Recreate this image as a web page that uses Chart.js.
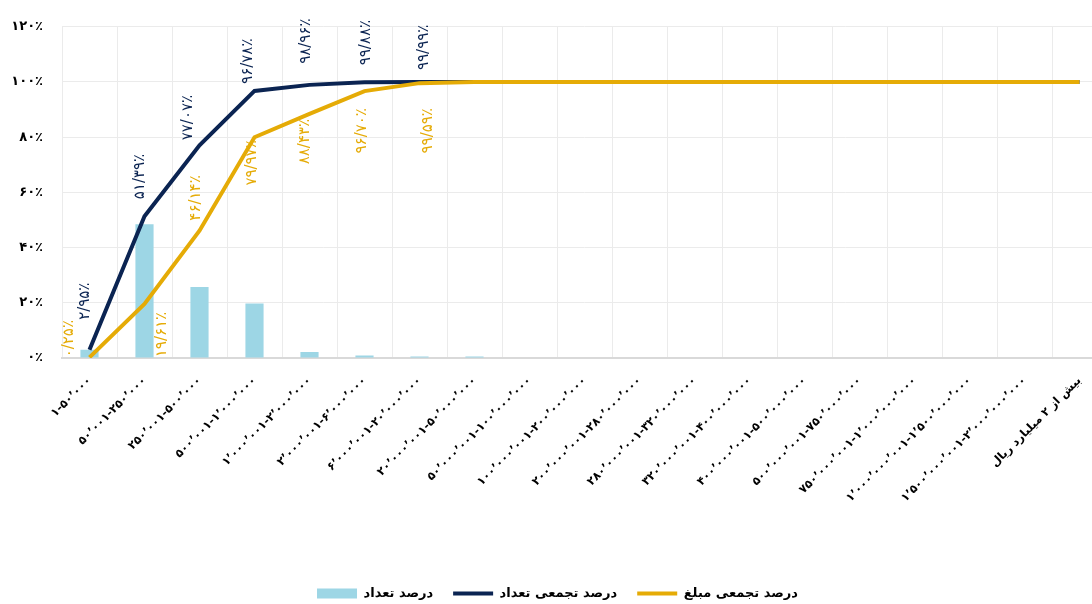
<!DOCTYPE html>
<html lang="fa">
<head>
<meta charset="utf-8">
<title>درصد تجمعی</title>
<script src="https://cdn.jsdelivr.net/npm/chart.js@4.4.1/dist/chart.umd.min.js"></script>
<style>
  html, body { margin: 0; padding: 0; background: #fff; overflow: hidden; }
  #wrap { position: relative; width: 1115px; height: 610px; }
</style>
</head>
<body>
<div id="wrap"><canvas id="chart"></canvas></div>
<script>
const FONT = '"DejaVu Sans", sans-serif';
const NAVY = '#0b2452';
const GOLD = '#e5ab06';
const BAR_BLUE = '#9dd6e5';

// ranges (rial)
const CATEGORIES = [
  '۱-۵۰٬۰۰۰',
  '۵۰٬۰۰۱-۲۵۰٬۰۰۰',
  '۲۵۰٬۰۰۱-۵۰۰٬۰۰۰',
  '۵۰۰٬۰۰۱-۱٬۰۰۰٬۰۰۰',
  '۱٬۰۰۰٬۰۰۱-۲٬۰۰۰٬۰۰۰',
  '۲٬۰۰۰٬۰۰۱-۶٬۰۰۰٬۰۰۰',
  '۶٬۰۰۰٬۰۰۱-۲۰٬۰۰۰٬۰۰۰',
  '۲۰٬۰۰۰٬۰۰۱-۵۰٬۰۰۰٬۰۰۰',
  '۵۰٬۰۰۰٬۰۰۱-۱۰۰٬۰۰۰٬۰۰۰',
  '۱۰۰٬۰۰۰٬۰۰۱-۲۰۰٬۰۰۰٬۰۰۰',
  '۲۰۰٬۰۰۰٬۰۰۱-۲۸۰٬۰۰۰٬۰۰۰',
  '۲۸۰٬۰۰۰٬۰۰۱-۳۲۰٬۰۰۰٬۰۰۰',
  '۳۲۰٬۰۰۰٬۰۰۱-۴۰۰٬۰۰۰٬۰۰۰',
  '۴۰۰٬۰۰۰٬۰۰۱-۵۰۰٬۰۰۰٬۰۰۰',
  '۵۰۰٬۰۰۰٬۰۰۱-۷۵۰٬۰۰۰٬۰۰۰',
  '۷۵۰٬۰۰۰٬۰۰۱-۱٬۰۰۰٬۰۰۰٬۰۰۰',
  '۱٬۰۰۰٬۰۰۰٬۰۰۱-۱٬۵۰۰٬۰۰۰٬۰۰۰',
  '۱٬۵۰۰٬۰۰۰٬۰۰۱-۲٬۰۰۰٬۰۰۰٬۰۰۰',
  'بیش از ۲ میلیارد ریال'
];

const COUNT_PCT  = [2.95, 48.44, 25.68, 19.71, 2.18, 0.92, 0.55, 0.5, 0, 0, 0, 0, 0, 0, 0, 0, 0, 0, 0];
const COUNT_CUM  = [2.95, 51.39, 77.07, 96.78, 98.96, 99.88, 99.99, 100, 100, 100, 100, 100, 100, 100, 100, 100, 100, 100, 100];
const AMOUNT_CUM = [0.25, 19.61, 46.14, 79.97, 88.43, 96.70, 99.59, 100, 100, 100, 100, 100, 100, 100, 100, 100, 100, 100, 100];

const SERIES_NAMES = ['درصد تعداد', 'درصد تجمعی تعداد', 'درصد تجمعی مبلغ'];
const Y_MIN = 0, Y_MAX = 120, Y_STEP = 20;
const LABELED_POINTS = 7;

const FA_DIGITS = '۰۱۲۳۴۵۶۷۸۹';
const toFa = (s) => String(s).replace(/\d/g, (d) => FA_DIGITS[d]);
const pctLabel = (v) => toFa(v.toFixed(2)).replace('.', '/') + '٪';

// rotated value labels for the two cumulative lines
const pointLabels = {
  id: 'pointLabels',
  afterDatasetsDraw(chart, args, opts) {
    const { ctx } = chart;
    opts.sets.forEach((cfg) => {
      const ds = chart.data.datasets[cfg.dataset];
      const meta = chart.getDatasetMeta(cfg.dataset);
      ctx.save();
      ctx.fillStyle = cfg.color;
      ctx.font = `${opts.size}px ${FONT}`;
      ctx.textBaseline = 'middle';
      for (let i = 0; i < LABELED_POINTS; i++) {
        const pt = meta.data[i];
        const [place, dx, gap] = cfg.place[i];
        const x = pt.x + dx;
        const y = place === 'above' ? pt.y - gap : pt.y + gap;
        ctx.save();
        ctx.translate(x, y);
        ctx.rotate(-Math.PI / 2);
        ctx.textAlign = place === 'above' ? 'left' : 'right';
        ctx.fillText(pctLabel(ds.data[i]), 0, 0);
        ctx.restore();
      }
      ctx.restore();
    });
  }
};

new Chart(document.getElementById('chart'), {
  data: {
    labels: CATEGORIES,
    datasets: [
      {
        type: 'bar',
        label: SERIES_NAMES[0],
        data: COUNT_PCT,
        backgroundColor: BAR_BLUE,
        barPercentage: 0.33,
        categoryPercentage: 1,
        pointStyle: 'rect',
        order: 3
      },
      {
        type: 'line',
        label: SERIES_NAMES[1],
        data: COUNT_CUM,
        borderColor: NAVY,
        backgroundColor: NAVY,
        borderWidth: 4,
        pointRadius: 0,
        pointStyle: 'line',
        tension: 0,
        order: 2
      },
      {
        type: 'line',
        label: SERIES_NAMES[2],
        data: AMOUNT_CUM,
        borderColor: GOLD,
        backgroundColor: GOLD,
        borderWidth: 4,
        pointRadius: 0,
        pointStyle: 'line',
        tension: 0,
        order: 1
      }
    ]
  },
  options: {
    responsive: true,
    maintainAspectRatio: false,
    animation: false,
    layout: { padding: { left: 8, top: 21, right: 8, bottom: 0 } },
    scales: {
      x: {
        offset: true,
        grid: { color: '#ebebeb', drawTicks: false, offset: true },
        border: { color: '#d9d9d9', width: 2 },
        ticks: {
          autoSkip: false,
          minRotation: 45,
          maxRotation: 45,
          padding: 16,
          color: '#000',
          font: { family: FONT, size: 11.5, weight: 'bold' }
        },
        afterFit(scale) { scale.height = 209; }
      },
      y: {
        min: Y_MIN,
        max: Y_MAX,
        grid: { color: '#ebebeb', drawTicks: false },
        border: { display: false },
        ticks: {
          stepSize: Y_STEP,
          padding: 19,
          color: '#000',
          font: { family: FONT, size: 13, weight: 'bold' },
          callback: (v) => toFa(v) + '٪'
        },
        afterFit(scale) { scale.width = 54; }
      }
    },
    plugins: {
      legend: {
        position: 'bottom',
        labels: {
          usePointStyle: true,
          pointStyleWidth: 40,
          boxHeight: 10,
          padding: 20,
          color: '#000',
          font: { family: FONT, size: 13, weight: 'bold' },
          sort: (a, b) => a.datasetIndex - b.datasetIndex
        }
      },
      tooltip: { enabled: false },
      pointLabels: {
        size: 15,
        sets: [
          {
            dataset: 1,
            color: NAVY,
            place: [['above', -4, 30], ['above', -4, 17], ['above', -11, 5], ['above', -6, 7],
                    ['above', -3, 21], ['above', 2, 17], ['above', 5, 12]]
          },
          {
            dataset: 2,
            color: GOLD,
            place: [['above', -20, 0], ['below', 18, 8], ['above', -3, 10], ['below', -2, 3],
                    ['below', -4, 5], ['below', -2, 17], ['below', 9, 25]]
          }
        ]
      }
    }
  },
  plugins: [pointLabels]
});
</script>
</body>
</html>
